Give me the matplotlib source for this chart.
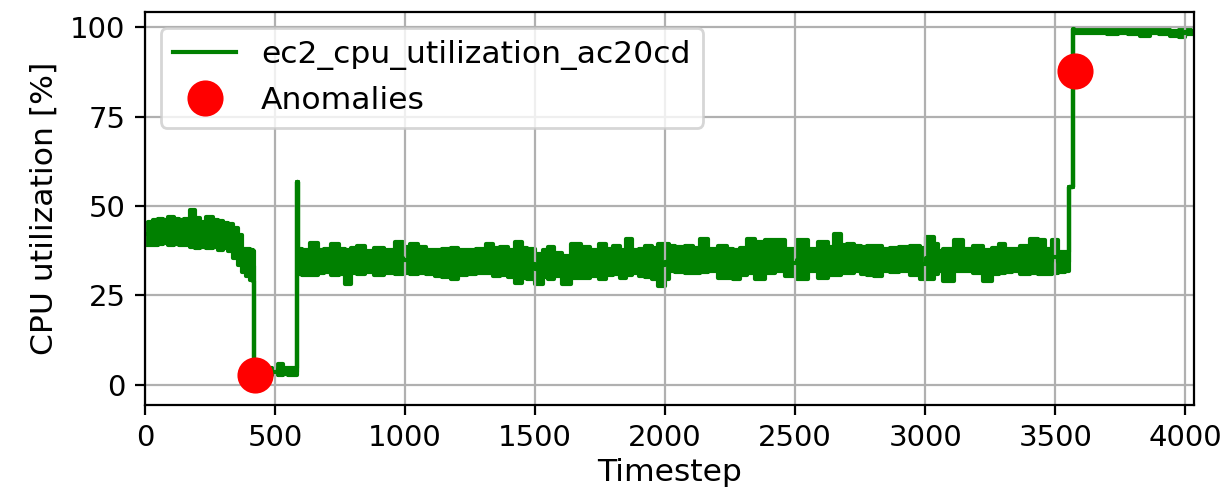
import matplotlib
matplotlib.use("Agg")
import matplotlib.pyplot as plt
import numpy as np

# CPU utilisation trace, read off the picture as an envelope (upper/lower edge
# of the noise band) at hand-picked timesteps
timestep = [
    0, 20, 40, 60, 80, 100, 120, 140, 160, 185, 200, 220, 250, 270, 290, 310,
    330, 350, 365, 380, 395, 410, 418,
    421, 423, 450, 480, 500, 520, 540, 560, 583, 586,
    590, 620, 650, 680, 700, 730, 760, 781, 800, 830, 860, 900, 940, 981,
    1000, 1040, 1063, 1100, 1127, 1160, 1190, 1220, 1253, 1290, 1329, 1350,
    1380, 1410, 1437, 1460, 1481, 1519, 1540, 1557, 1590, 1620, 1658, 1696,
    1730, 1759, 1790, 1810, 1840, 1861, 1886, 1910, 1937, 1960, 1987, 2013,
    2019, 2060, 2096, 2122, 2147, 2186, 2224, 2250, 2275, 2300, 2327, 2365,
    2404, 2442, 2481, 2532, 2570, 2609, 2640, 2660, 2690, 2711, 2740, 2763,
    2790, 2814, 2852, 2880, 2916, 2968, 2990, 3019, 3045,
    3050, 3090, 3128, 3166, 3205, 3243, 3270, 3294, 3320, 3346, 3384, 3423,
    3448, 3474, 3500, 3525, 3551,
    3556, 3568, 3572,
    3575, 3620, 3680, 3720, 3760, 3800, 3850, 3880, 3920, 3960, 3990, 4010,
    4031,
]
cpu_high = [
    45.0, 45.6, 46.0, 46.4, 46.2, 46.9, 46.4, 46.0, 46.4, 48.8, 46.6, 45.5,
    46.9, 46.0, 45.7, 45.3, 45.0, 43.8, 41.8, 38.0, 37.9, 37.6, 37.4,
    3.0, 3.4, 3.8, 4.6, 4.4, 5.8, 4.8, 4.8, 4.6, 56.7,
    38.0, 37.6, 39.6, 37.8, 38.0, 39.4, 38.0, 37.8, 38.4, 38.9, 37.4, 38.2,
    37.6, 39.9,
    38.5, 39.4, 38.5, 37.6, 37.6, 38.0, 38.4, 37.8, 37.6, 38.0, 39.4, 38.2,
    38.5, 37.8, 39.9, 38.2, 37.9, 36.6, 37.8, 38.5, 37.0, 35.9, 39.4, 38.5,
    37.8, 39.4, 38.0, 38.9, 37.6, 40.8, 37.6, 38.0, 38.9, 38.2, 39.4, 39.4,
    38.7, 38.5, 38.9, 38.4, 40.8, 38.0, 38.9, 38.0, 37.6, 38.4, 40.8, 39.9,
    40.4, 40.4, 38.0, 40.4, 38.0, 39.9, 38.5, 42.2, 39.0, 39.4, 38.8, 38.5,
    38.9, 38.9, 38.0, 38.4, 38.5, 38.9, 38.2, 41.3, 39.4,
    37.4, 38.0, 40.4, 38.0, 38.8, 37.6, 38.2, 39.4, 38.0, 38.0, 38.8, 40.8,
    40.4, 38.0, 40.4, 37.1, 37.1,
    55.3, 55.3, 99.4,
    99.4, 99.3, 99.4, 99.2, 99.3, 99.2, 99.3, 99.1, 99.2, 99.0, 99.2, 99.1,
    99.0,
]
cpu_low = [
    39.2, 39.0, 39.2, 39.4, 39.6, 39.2, 39.4, 39.0, 39.2, 38.6, 38.3, 38.5,
    38.2, 38.6, 37.8, 38.2, 37.4, 35.5, 33.5, 31.6, 30.5, 29.2, 29.1,
    3.0, 2.6, 2.8, 2.9, 3.0, 2.9, 3.0, 2.9, 2.8, 56.7,
    31.1, 30.8, 30.6, 31.4, 31.6, 30.8, 31.0, 28.1, 31.2, 31.0, 31.6, 30.6,
    31.4, 31.0,
    31.3, 31.0, 31.3, 30.9, 30.4, 30.2, 29.5, 30.6, 30.9, 31.2, 31.3, 30.5,
    30.8, 30.2, 28.5, 30.0, 29.5, 28.1, 30.2, 29.5, 30.4, 28.1, 30.0, 29.9,
    30.4, 29.5, 30.6, 30.9, 30.0, 30.6, 31.3, 30.4, 30.1, 29.6, 27.6, 29.5,
    31.8, 31.6, 31.3, 31.3, 31.5, 31.8, 29.9, 30.0, 29.5, 30.8, 31.3, 29.5,
    31.3, 31.8, 30.4, 29.5, 31.8, 29.9, 30.6, 30.8, 31.2, 31.3, 31.8, 30.9,
    30.6, 30.4, 31.8, 31.5, 31.8, 30.8, 29.5, 29.6, 30.9,
    31.8, 29.0, 31.8, 31.8, 31.4, 29.0, 31.0, 31.3, 31.6, 31.8, 30.9, 31.4,
    30.9, 31.0, 31.3, 31.6, 31.8,
    55.3, 55.3, 99.4,
    98.4, 98.4, 98.3, 98.0, 98.4, 98.1, 97.6, 98.2, 98.0, 97.5, 97.3, 98.0,
    98.0,
]

anomaly_steps = [423, 3577]
anomaly_values = [2.8, 87.8]

x_ticks = [0, 500, 1000, 1500, 2000, 2500, 3000, 3500, 4000]
y_ticks = [0, 25, 50, 75, 100]

t = np.array(timestep)
hi = np.array(cpu_high)
lo = np.array(cpu_low)

fig, ax = plt.subplots(figsize=(6.14, 2.45), dpi=200)
fig.subplots_adjust(left=0.118, right=0.972, top=0.9755, bottom=0.1735)

# noise band, then a line through its middle for the legend entry
ax.fill_between(t, lo, hi, step='mid', color='green', edgecolor='green',
                lw=1.5)
ax.plot(t, (hi + lo) / 2, color='green', lw=1.5, drawstyle='steps-mid',
        label='ec2_cpu_utilization_ac20cd')
ax.plot(anomaly_steps, anomaly_values, 'o', color='red', ms=12,
        label='Anomalies', zorder=5)

ax.set_xlim(0, 4032)
ax.set_ylim(-5.6, 104.2)
ax.set_xticks(x_ticks)
ax.set_yticks(y_ticks)
ax.tick_params(labelsize=10.5)
ax.grid(True)
ax.set_xlabel('Timestep', fontsize=11.3, labelpad=2)
ax.set_ylabel('CPU utilization [%]', fontsize=11.3)
ax.legend(loc='upper left', fontsize=11.3)

fig.savefig('out.png')
